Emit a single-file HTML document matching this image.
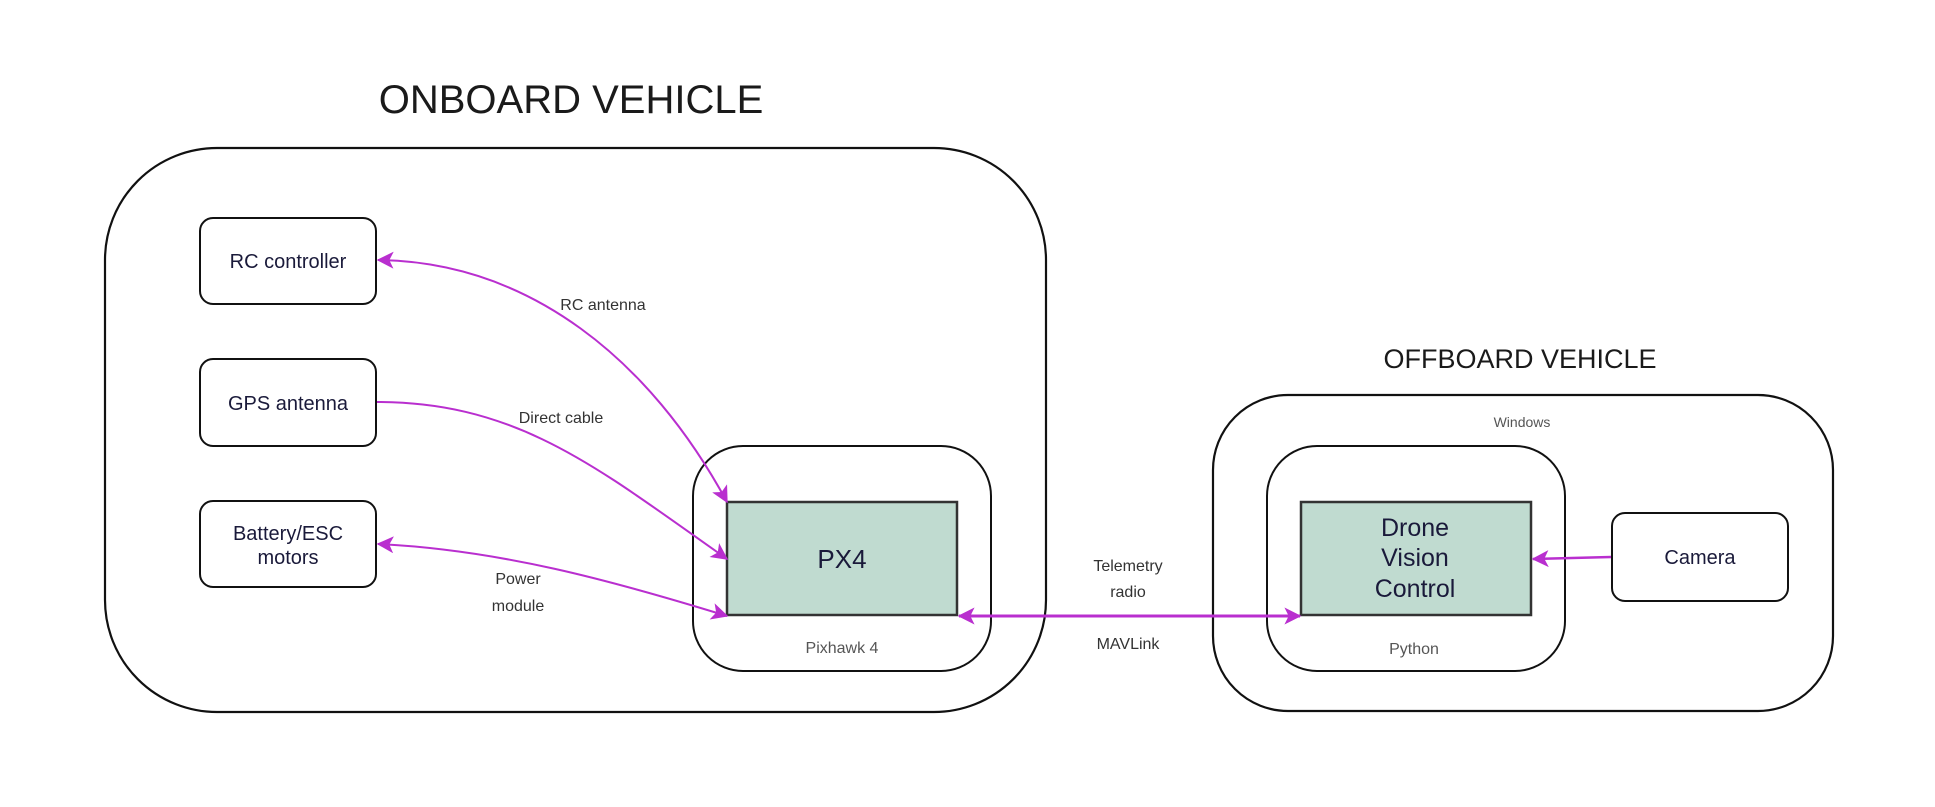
<!DOCTYPE html>
<html><head><meta charset="utf-8"><style>
html,body{margin:0;padding:0;background:#fff;}
svg{display:block;}
text{font-family:"Liberation Sans",sans-serif;}
</style></head><body>
<svg width="1935" height="807" viewBox="0 0 1935 807" xmlns="http://www.w3.org/2000/svg">
<defs>
<marker id="a" viewBox="0 0 12 12" refX="11" refY="6" markerWidth="17" markerHeight="17" markerUnits="userSpaceOnUse" orient="auto-start-reverse">
<path d="M0,0 L12,6 L0,12 L3,6 Z" fill="#b92fcf"/>
</marker>
</defs>
<text x="571" y="113" font-size="40" text-anchor="middle" fill="#1a1a1a">ONBOARD VEHICLE</text>
<rect x="105" y="148" width="941" height="564" rx="112" fill="none" stroke="#111" stroke-width="2.2"/>
<g fill="#fff" stroke="#111" stroke-width="2">
<rect x="200" y="218" width="176" height="86" rx="13"/>
<rect x="200" y="359" width="176" height="87" rx="13"/>
<rect x="200" y="501" width="176" height="86" rx="13"/>
<rect x="693" y="446" width="298" height="225" rx="50"/>
</g>
<rect x="727" y="502" width="230" height="113" fill="#c0dbd0" stroke="#333" stroke-width="2.5"/>
<text x="1520" y="368" font-size="27" text-anchor="middle" fill="#1a1a1a">OFFBOARD VEHICLE</text>
<rect x="1213" y="395" width="620" height="316" rx="75" fill="none" stroke="#111" stroke-width="2.2"/>
<rect x="1267" y="446" width="298" height="225" rx="50" fill="none" stroke="#111" stroke-width="2"/>
<rect x="1301" y="502" width="230" height="113" fill="#c0dbd0" stroke="#333" stroke-width="2.5"/>
<rect x="1612" y="513" width="176" height="88" rx="13" fill="#fff" stroke="#111" stroke-width="2"/>
<g font-size="20" fill="#1a1a3a" text-anchor="middle">
<text x="288" y="268">RC controller</text>
<text x="288" y="410">GPS antenna</text>
<text x="288" y="540">Battery/ESC</text>
<text x="288" y="564">motors</text>
<text x="842" y="568" font-size="26">PX4</text>
<text x="1415" y="536" font-size="25">Drone</text>
<text x="1415" y="566" font-size="25">Vision</text>
<text x="1415" y="597" font-size="25">Control</text>
<text x="1700" y="564">Camera</text>
</g>
<g font-size="16" fill="#333" text-anchor="middle">
<text x="842" y="653" fill="#555">Pixhawk 4</text>
<text x="603" y="310">RC antenna</text>
<text x="561" y="423">Direct cable</text>
<text x="518" y="584">Power</text>
<text x="518" y="611">module</text>
<text x="1128" y="571">Telemetry</text>
<text x="1128" y="597">radio</text>
<text x="1128" y="649">MAVLink</text>
<text x="1522" y="427" font-size="14" fill="#555">Windows</text>
<text x="1414" y="654" fill="#555">Python</text>
</g>
<g fill="none" stroke="#b92fcf" stroke-width="2">
<path d="M378 260 C530 262 650 360 727 502" marker-start="url(#a)" marker-end="url(#a)"/>
<path d="M377 402 C520 402 600 470 727 559" marker-end="url(#a)"/>
<path d="M378 544 C500 550 610 580 727 616" marker-start="url(#a)" marker-end="url(#a)"/>
<path d="M959 616 L1300 616" stroke-width="3" marker-start="url(#a)" marker-end="url(#a)"/>
<path d="M1611 557 L1533 559" stroke-width="2.5" marker-end="url(#a)"/>
</g>
</svg>
</body></html>
